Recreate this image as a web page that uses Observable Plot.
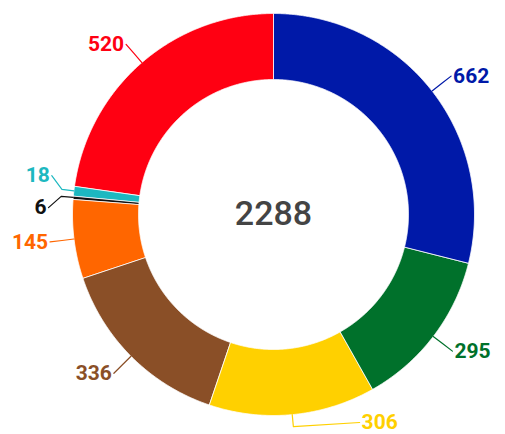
<!DOCTYPE html>
<html><head><meta charset="utf-8">
<script src="https://cdn.jsdelivr.net/npm/d3@7"></script>
<script src="https://cdn.jsdelivr.net/npm/@observablehq/plot@0.6"></script>
<style>html,body{margin:0;padding:0;background:#fff;overflow:hidden}</style>
</head><body><div id="chart"></div>
<script>
// ---- data ----
const categories = ["A", "B", "C", "D", "E", "F", "G", "H"];
const values = [662, 295, 306, 336, 145, 6, 18, 520];
const palette = ["#0019a8", "#00712b", "#ffd000", "#8a4f27", "#ff6600", "#111111", "#1db8c0", "#ff0012"];

// ---- layout ----
const W = 505, H = 434, CX = 273, CY = 214, R = 201;
const INNER = 135 / R;
const total = d3.sum(values);
let acc = 0;
const slices = values.map((v, i) => {
  const a0 = acc / total * 2 * Math.PI; acc += v;
  const a1 = acc / total * 2 * Math.PI;
  return {name: categories[i], value: v, color: palette[i], a0, a1, mid: (a0 + a1) / 2};
});

const ring = [];
for (const s of slices) {
  const n = Math.max(2, Math.ceil((s.a1 - s.a0) / 0.005));
  for (let k = 0; k <= n; k++) { const a = s.a0 + (s.a1 - s.a0) * k / n; ring.push({name: s.name, color: s.color, x: Math.sin(a), y: Math.cos(a)}); }
  for (let k = n; k >= 0; k--) { const a = s.a0 + (s.a1 - s.a0) * k / n; ring.push({name: s.name, color: s.color, x: INNER * Math.sin(a), y: INNER * Math.cos(a)}); }
}

// label placement: on a circle of radius RL, spread vertically, kept inside the frame
const RL = 1.12, GAP = 32 / R, yMin = -(H - CY - 12) / R, yMax = (CY - 14) / R;
const labels = slices.map(s => ({...s, sign: Math.sin(s.mid) >= 0 ? 1 : -1, ly: Math.cos(s.mid) * RL}));
for (const sign of [1, -1]) {
  const arr = labels.filter(d => d.sign === sign).sort((a, b) => b.ly - a.ly);
  for (let it = 0; it < 100; it++) {
    for (const d of arr) d.ly = Math.max(yMin, Math.min(yMax, d.ly));
    for (let i = 0; i < arr.length - 1; i++) {
      const diff = arr[i].ly - arr[i + 1].ly;
      if (diff < GAP) { const p = (GAP - diff) / 2; arr[i].ly += p; arr[i + 1].ly -= p; }
    }
  }
}
for (const d of labels) d.lx = d.sign * Math.sqrt(Math.max(0, RL * RL - d.ly * d.ly));

const leaders = [];
for (const d of labels) {
  leaders.push({name: d.name, color: d.color, x: Math.sin(d.mid), y: Math.cos(d.mid)});
  leaders.push({name: d.name, color: d.color, x: 1.06 * Math.sin(d.mid), y: 1.06 * Math.cos(d.mid)});
  leaders.push({name: d.name, color: d.color, x: d.lx, y: d.ly});
}

const textOpts = {x: "lx", y: "ly", text: d => String(d.value), fill: "color", fontSize: 21, fontWeight: 700, fontFamily: "Roboto"};

const chart = Plot.plot({
  width: W, height: H, margin: 0,
  x: {domain: [-CX / R, (W - CX) / R], axis: null},
  y: {domain: [-(H - CY) / R, CY / R], axis: null},
  color: {type: "identity"},
  style: {fontFamily: "Roboto", background: "#fff"},
  marks: [
    Plot.line(ring, {x: "x", y: "y", z: "name", fill: "color", stroke: "#fff", strokeWidth: 0.8, curve: "linear-closed"}),
    Plot.line(leaders, {x: "x", y: "y", z: "name", stroke: "color", strokeWidth: 1.2}),
    Plot.text(labels.filter(d => d.sign > 0), {...textOpts, textAnchor: "start", dx: 2}),
    Plot.text(labels.filter(d => d.sign < 0), {...textOpts, textAnchor: "end", dx: -2}),
    Plot.text([total], {x: () => 0, y: () => 0, text: d => String(d), fontSize: 34, fontWeight: 500, fill: "#444", fontFamily: "Roboto"})
  ]
});
document.getElementById("chart").appendChild(chart);
</script>
</body></html>
